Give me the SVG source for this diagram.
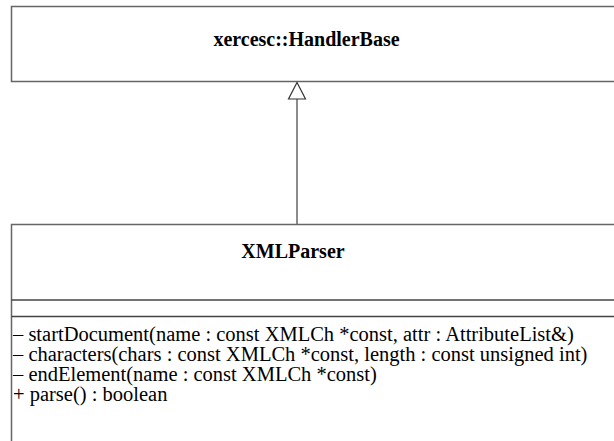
<svg xmlns="http://www.w3.org/2000/svg" width="614" height="441" viewBox="0 0 614 441">
<style>
.box{fill:#fff;stroke:#666;stroke-width:1.5}
.sep{stroke:#444;stroke-width:1.3}
.title{font-family:"Liberation Serif",serif;font-weight:bold;font-size:20px;fill:#000;text-anchor:middle}
.op{font-family:"Liberation Serif",serif;font-size:20.5px;fill:#000}
.conn{stroke:#666;stroke-width:1.5;fill:none}
</style>
<rect width="614" height="441" fill="#fff"/>
<g id="HandlerBase">
<rect class="box" x="11.5" y="6.5" width="640" height="75"/>
<text class="title" x="306.5" y="46">xercesc::HandlerBase</text>
</g>
<g id="XMLParser">
<rect class="box" x="11.5" y="224.5" width="640" height="260"/>
<text class="title" x="293" y="258" font-size="21">XMLParser</text>
<line class="sep" x1="11.5" y1="300" x2="614" y2="300"/>
<line class="sep" x1="11.5" y1="316.5" x2="614" y2="316.5"/>
<text class="op" x="13" y="341">– startDocument(name : const XMLCh *const, attr : AttributeList&amp;)</text>
<text class="op" x="13" y="361">– characters(chars : const XMLCh *const, length : const unsigned int)</text>
<text class="op" x="13" y="381">– endElement(name : const XMLCh *const)</text>
<text class="op" x="13" y="401">+ parse() : boolean</text>
</g>
<g id="connectors">
<line class="conn" x1="297" y1="99" x2="297" y2="224.5"/>
<polygon points="297,82.5 288.5,99 305.5,99" fill="#fff" stroke="#333" stroke-width="1.2"/>
</g>
</svg>
